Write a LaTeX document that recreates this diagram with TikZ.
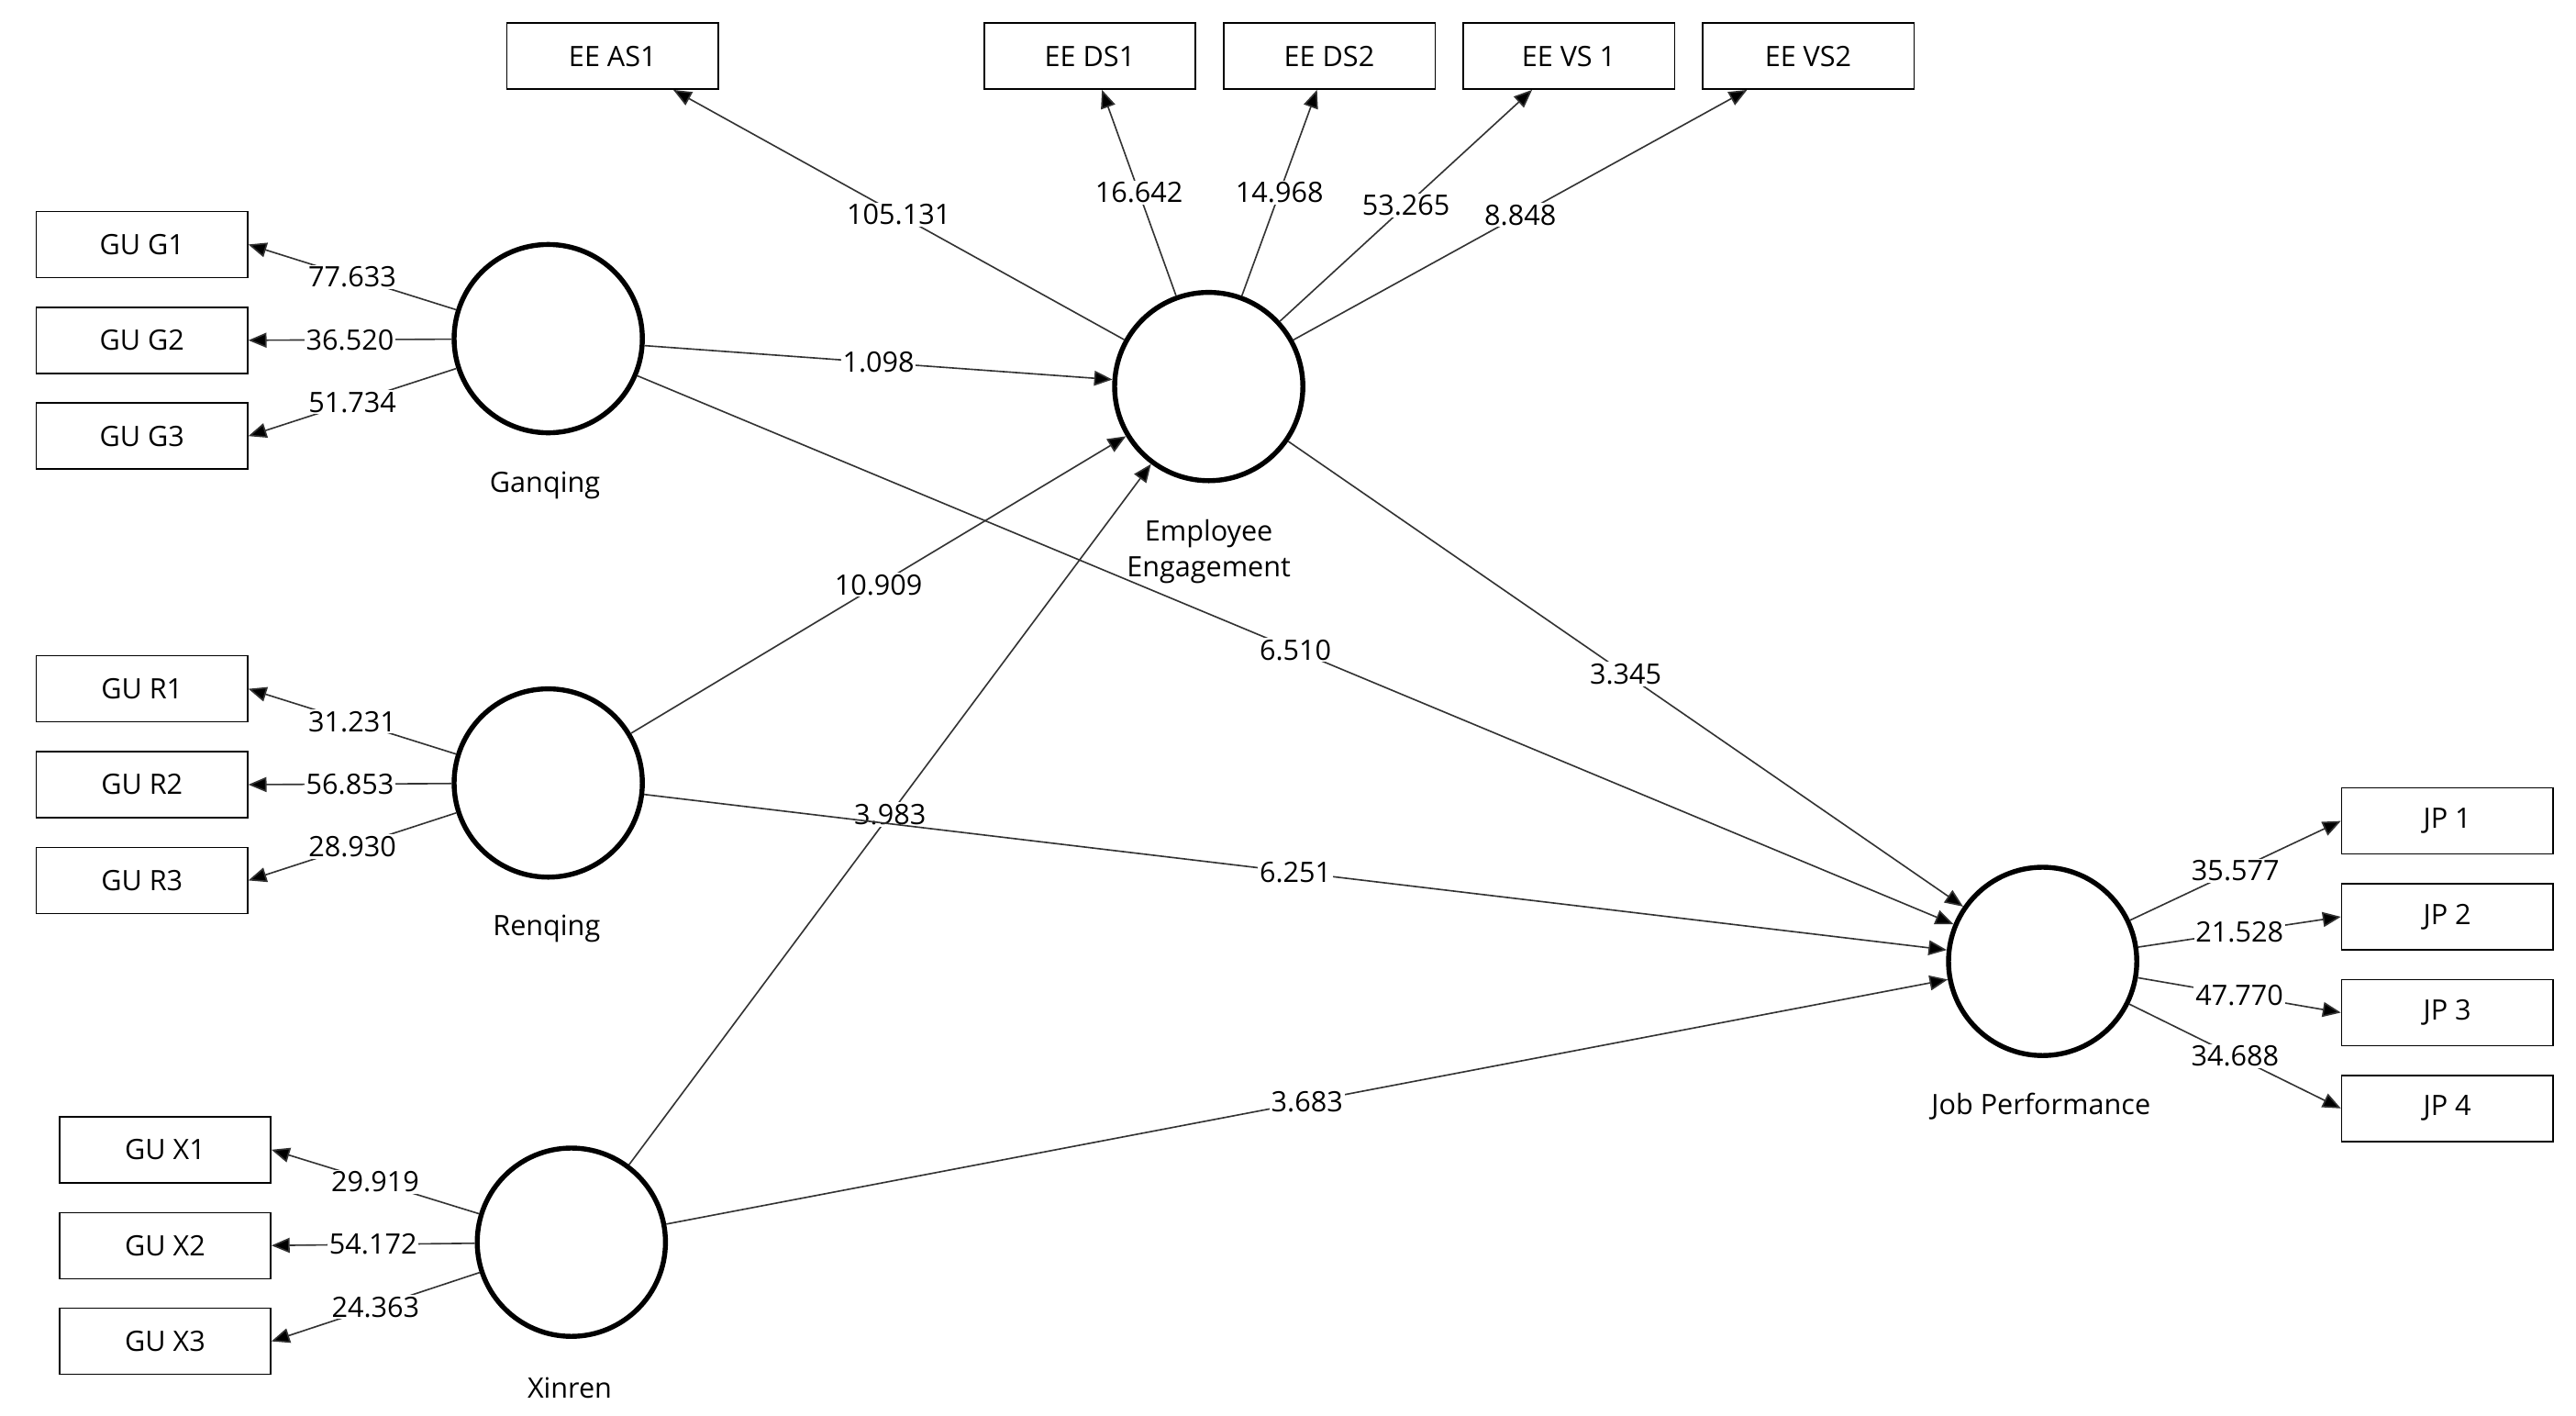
\documentclass[tikz,border=0pt]{standalone}
\usepackage{fontspec}
\setmainfont{Open Sans}
\usetikzlibrary{arrows.meta}
\begin{document}
\begin{tikzpicture}[x=1pt,y=-1pt,
  every node/.style={font=\fontsize{17}{20}\selectfont},
  box/.style={draw,thick,minimum width=128pt,minimum height=40pt,inner sep=0pt},
  lv/.style={circle,draw,line width=3pt,minimum size=114pt,inner sep=0pt},
  lab/.style={font=\fontsize{17}{20}\selectfont,align=center},
  ar/.style={draw=black!80,line width=0.9pt,-{Triangle[length=11pt,width=9pt,fill=black]}},
  val/.style={fill=white,inner sep=1pt,midway}]
\useasboundingbox (0,0) rectangle (1560,857);
\node[lv] (G) at (332,205) {};
\node[lv] (E) at (732,234) {};
\node[lv] (R) at (332,474) {};
\node[lv] (X) at (346,752) {};
\node[lv] (J) at (1237,582) {};
\node[lab] at (330,294) {Ganqing};
\node[lab,text width=140pt] at (732,334) {Employee\\[2pt]Engagement};
\node[lab] at (331,562) {Renqing};
\node[lab] at (345,840) {Xinren};
\node[lab] at (1236,670) {Job Performance};
\node[box] (as1) at (371,34) {EE AS1};
\node[box] (ds1) at (660,34) {EE DS1};
\node[box] (ds2) at (805,34) {EE DS2};
\node[box] (vs1) at (950,34) {EE VS 1};
\node[box] (vs2) at (1095,34) {EE VS2};
\node[box] (g1) at (86,148) {GU G1};
\node[box] (g2) at (86,206) {GU G2};
\node[box] (g3) at (86,264) {GU G3};
\node[box] (r1) at (86,417) {GU R1};
\node[box] (r2) at (86,475) {GU R2};
\node[box] (r3) at (86,533) {GU R3};
\node[box] (x1) at (100,696) {GU X1};
\node[box] (x2) at (100,754) {GU X2};
\node[box] (x3) at (100,812) {GU X3};
\node[box] (j1) at (1482,497) {JP 1};
\node[box] (j2) at (1482,555) {JP 2};
\node[box] (j3) at (1482,613) {JP 3};
\node[box] (j4) at (1482,671) {JP 4};
\draw[ar] (E) -- (as1) node[val] {105.131};
\draw[ar] (E) -- (ds1) node[val] {16.642};
\draw[ar] (E) -- (ds2) node[val] {14.968};
\draw[ar] (E) -- (vs1) node[val] {53.265};
\draw[ar] (E) -- (vs2) node[val] {8.848};
\draw[ar] (G) -- (g1.east) node[val] {77.633};
\draw[ar] (G) -- (g2.east) node[val] {36.520};
\draw[ar] (G) -- (g3.east) node[val] {51.734};
\draw[ar] (R) -- (r1.east) node[val] {31.231};
\draw[ar] (R) -- (r2.east) node[val] {56.853};
\draw[ar] (R) -- (r3.east) node[val] {28.930};
\draw[ar] (X) -- (x1.east) node[val] {29.919};
\draw[ar] (X) -- (x2.east) node[val] {54.172};
\draw[ar] (X) -- (x3.east) node[val] {24.363};
\draw[ar] (J) -- (j1.west) node[val] {35.577};
\draw[ar] (J) -- (j2.west) node[val] {21.528};
\draw[ar] (J) -- (j3.west) node[val] {47.770};
\draw[ar] (J) -- (j4.west) node[val] {34.688};
\draw[ar] (G) -- (E) node[val] {1.098};
\draw[ar] (R) -- (E) node[val] {10.909};
\draw[ar] (X) -- (E) node[val] {3.983};
\draw[ar] (G) -- (J) node[val] {6.510};
\draw[ar] (E) -- (J) node[val] {3.345};
\draw[ar] (R) -- (J) node[val] {6.251};
\draw[ar] (X) -- (J) node[val] {3.683};
\end{tikzpicture}
\end{document}
